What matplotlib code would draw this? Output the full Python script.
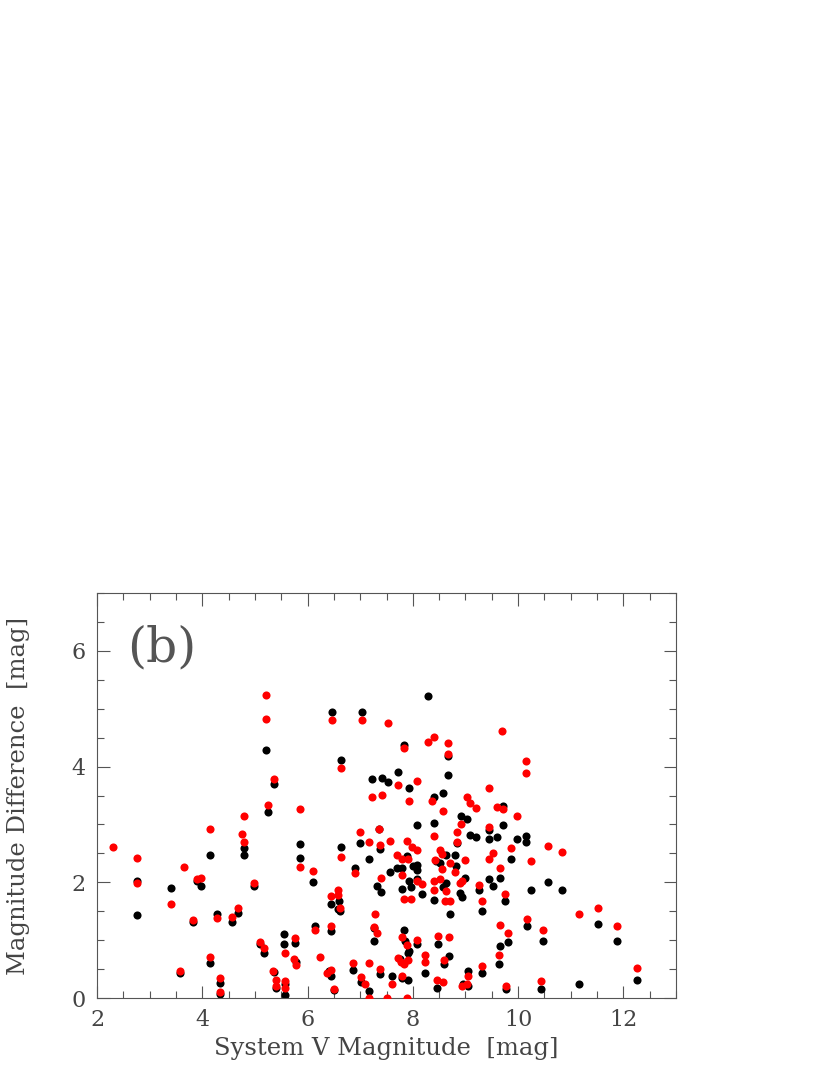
import matplotlib
matplotlib.use("Agg")
import matplotlib.pyplot as plt
from matplotlib.ticker import MultipleLocator

# black points: (V mag, delta mag)
black_x = [2.76, 2.76, 3.40, 3.58, 3.83, 3.90, 3.98, 4.15, 4.15, 4.28, 4.34, 4.34, 4.56, 4.68,
           4.80, 4.80, 4.99, 5.09, 5.17, 5.24, 5.36, 5.40, 5.56, 5.56, 5.58, 5.58, 5.78, 5.77,
           5.85, 5.85, 6.10, 6.14, 6.40, 6.45, 6.50, 6.45, 6.45, 6.60, 6.57, 6.62, 6.64, 6.99,
           6.91, 6.86, 7.02, 7.17, 7.17, 7.35, 7.37, 7.32, 7.39, 7.26, 7.26, 7.37, 7.56,
           5.21, 5.36, 6.46, 7.03, 6.63, 7.22, 7.42, 7.52,
           8.28, 7.83, 8.67, 7.72, 7.93, 8.67, 8.57, 8.41, 8.92, 9.03, 8.07, 8.41, 9.71, 9.44,
           9.71, 9.08, 9.20, 9.44, 9.59, 9.97, 10.15,
           10.15, 10.56, 10.84, 10.24, 9.87, 9.44, 9.53, 9.66, 9.25, 9.31, 9.76, 9.00, 8.93,
           8.89, 8.84, 8.63, 8.81, 8.82, 8.52, 8.44, 8.63, 8.57, 8.40, 8.70, 7.88, 7.70, 7.80,
           8.00, 8.07, 8.07, 8.07, 8.18, 7.93, 7.96, 7.80, 7.83, 7.85, 7.92, 8.07, 7.75, 7.91,
           7.80, 7.90, 7.61, 8.24, 8.48, 8.60, 8.69, 8.45, 8.95, 9.04, 9.05, 9.31, 9.65, 9.80,
           9.64, 9.77, 10.16, 10.47, 10.43, 11.15, 11.51, 11.87, 12.26]
black_y = [2.02, 1.43, 1.91, 0.44, 1.32, 2.02, 1.94, 2.47, 0.61, 1.45, 0.26, 0.07, 1.32, 1.47,
           2.60, 2.48, 1.93, 0.93, 0.78, 3.22, 0.45, 0.18, 1.11, 0.94, 0.25, 0.06, 0.62, 0.95,
           2.66, 2.42, 2.00, 1.25, 0.47, 0.38, 0.14, 1.63, 1.16, 1.68, 1.54, 1.50, 2.61, 2.68,
           2.24, 0.49, 0.28, 0.13, 2.41, 2.92, 2.58, 1.93, 1.84, 1.21, 0.98, 0.42, 2.17,
           4.29, 3.70, 4.95, 4.95, 4.12, 3.78, 3.80, 3.73,
           5.22, 4.37, 4.19, 3.90, 3.63, 3.85, 3.54, 3.48, 3.14, 3.10, 2.99, 3.03, 3.32, 2.90,
           2.99, 2.81, 2.78, 2.75, 2.78, 2.75, 2.80,
           2.70, 2.00, 1.86, 1.86, 2.40, 2.06, 1.94, 2.07, 1.87, 1.51, 1.68, 2.07, 1.75,
           1.82, 2.68, 2.48, 2.47, 2.28, 2.33, 2.37, 1.99, 1.92, 1.70, 1.45, 2.45, 2.24, 2.24,
           2.29, 2.30, 2.22, 2.06, 1.80, 2.02, 1.92, 1.88, 1.17, 0.99, 0.82, 0.94, 0.68, 0.77,
           0.34, 0.32, 0.38, 0.43, 0.93, 0.59, 0.73, 0.18, 0.25, 0.21, 0.47, 0.43, 0.90, 0.97,
           0.59, 0.15, 1.24, 0.98, 0.16, 0.24, 1.28, 0.99, 0.32]

# red points
red_x = [2.31, 2.76, 2.76, 3.40, 3.65, 3.58, 3.83, 3.90, 3.98, 4.15, 4.15, 4.28, 4.34, 4.34,
         4.56, 4.68, 4.76, 4.80, 4.80, 4.99, 5.09, 5.17, 5.24, 5.35, 5.40, 5.40, 5.57, 5.58,
         5.58, 5.74, 5.78, 5.77, 5.85, 5.85, 6.10, 6.14, 6.23, 6.37, 6.45, 6.50, 6.45, 6.45,
         6.57, 6.57, 6.62, 6.64, 6.99, 6.91, 6.86, 7.02, 7.10, 7.17, 7.17, 7.17, 7.35, 7.37,
         7.39, 7.29, 7.26, 7.32, 7.37, 7.50, 7.56,
         5.21, 5.21, 5.36, 6.46, 7.03, 7.52, 6.63, 7.22, 7.42,
         7.83, 8.28, 8.41, 8.67, 8.67, 9.70, 10.15, 10.15, 7.72, 8.07, 7.93, 8.37, 8.57, 9.03,
         9.09, 9.20, 9.44, 8.92, 8.83, 8.41, 9.60, 9.71, 9.97, 9.44, 7.89, 8.83,
         10.56, 10.84, 10.24, 9.87, 9.65, 9.44, 9.53, 9.25, 9.31, 9.76, 9.00, 8.89, 8.93, 8.71,
         8.56, 8.80, 8.52, 8.55, 8.43, 8.41, 8.51, 8.40, 8.63, 8.62, 8.71, 7.99, 8.07, 7.70,
         7.79, 7.91, 7.80, 8.07, 8.18, 7.83, 7.96, 7.80, 7.88, 8.07, 7.72, 7.78, 7.84, 7.91,
         7.80, 7.61, 7.89, 8.24, 8.24, 8.48, 8.68, 8.60, 8.45, 8.57, 8.93, 9.03, 9.05, 9.31,
         9.65, 9.80, 9.64, 9.77, 10.16, 10.47, 10.43, 11.15, 11.51, 11.87, 12.26]
red_y = [2.61, 2.42, 1.99, 1.62, 2.26, 0.46, 1.35, 2.05, 2.08, 2.92, 0.71, 1.38, 0.35, 0.10,
         1.40, 1.56, 2.83, 3.15, 2.70, 1.98, 0.97, 0.86, 3.34, 0.47, 0.31, 0.20, 0.78, 0.29,
         0.17, 0.68, 0.57, 1.04, 3.26, 2.26, 2.19, 1.17, 0.71, 0.43, 0.49, 0.16, 1.76, 1.24,
         1.86, 1.78, 1.55, 2.44, 2.87, 2.16, 0.61, 0.37, 0.24, 0.00, 0.61, 2.69, 2.92, 2.64,
         2.07, 1.46, 1.23, 1.12, 0.51, 0.00, 2.72,
         5.24, 4.82, 3.78, 4.80, 4.80, 4.76, 3.97, 3.48, 3.51,
         4.32, 4.43, 4.51, 4.41, 4.21, 4.61, 4.09, 3.89, 3.69, 3.75, 3.41, 3.41, 3.24, 3.48,
         3.37, 3.28, 3.63, 3.00, 2.87, 2.80, 3.30, 3.27, 3.15, 2.95, 2.72, 2.70,
         2.63, 2.53, 2.37, 2.59, 2.24, 2.41, 2.51, 1.96, 1.67, 1.80, 2.38, 1.99, 2.02, 2.34,
         2.23, 2.18, 2.56, 2.49, 2.38, 2.02, 2.05, 1.87, 1.85, 1.68, 1.68, 2.61, 2.55, 2.48,
         2.40, 2.41, 2.13, 2.03, 1.97, 1.71, 1.72, 1.05, 0.91, 1.00, 0.70, 0.62, 0.58, 0.66,
         0.38, 0.25, 0.00, 0.75, 0.63, 1.08, 1.05, 0.66, 0.31, 0.28, 0.21, 0.24, 0.38, 0.55,
         1.27, 1.12, 0.74, 0.21, 1.37, 1.17, 0.29, 1.45, 1.56, 1.24, 0.52]

TXT = "#444444"
plt.rcParams["font.family"] = ["DejaVu Serif"]

fig = plt.figure(figsize=(8.3, 10.75), dpi=100)
ax = fig.add_axes([0.1169, 0.0716, 0.6976, 0.3768])

ax.scatter(black_x, black_y, s=34, color="black", linewidths=0, zorder=2)
ax.scatter(red_x, red_y, s=34, color="#ff0000", linewidths=0, zorder=3)

ax.set_xlim(2, 13)
ax.set_ylim(0, 7)
ax.xaxis.set_major_locator(MultipleLocator(2))
ax.xaxis.set_minor_locator(MultipleLocator(0.5))
ax.yaxis.set_major_locator(MultipleLocator(2))
ax.yaxis.set_minor_locator(MultipleLocator(0.5))
ax.tick_params(which="both", direction="in", top=True, right=True, color="#555555",
               width=0.8, labelsize=16, labelcolor=TXT)
ax.tick_params(which="major", length=9, pad=8)
ax.tick_params(which="minor", length=5)
for sp in ax.spines.values():
    sp.set_color("#555555")
    sp.set_linewidth(0.8)

ax.set_xlabel("System V Magnitude  [mag]", fontsize=17.5, color=TXT, labelpad=4)
ax.set_ylabel("Magnitude Difference  [mag]", fontsize=17.5, color=TXT, labelpad=30)
ax.text(0.052, 0.865, "(b)", transform=ax.transAxes, fontsize=35, color="#555555",
        va="center", ha="left")

fig.savefig("out.png", dpi=100)
